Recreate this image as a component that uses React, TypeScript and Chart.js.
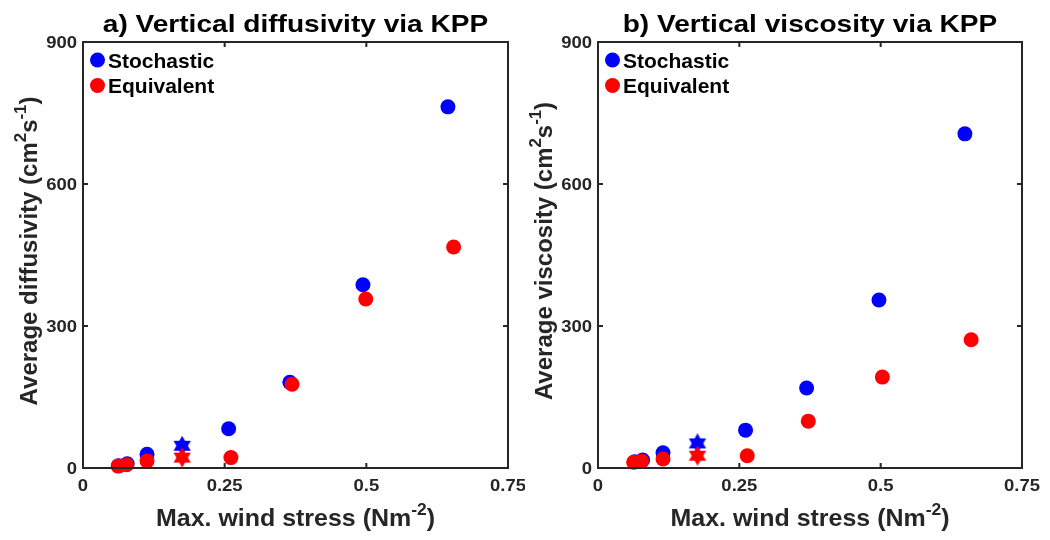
import React, { useEffect, useRef } from "react";
import { Chart, registerables } from "chart.js";

Chart.register(...registerables);

// ---------- data ----------
const xTickValues = [0, 0.25, 0.5, 0.75];
const xTickLabels = ["0", "0.25", "0.5", "0.75"];
const yTickValues = [0, 300, 600, 900];
const yTickLabels = ["0", "300", "600", "900"];

const legendLabels = ["Stochastic", "Equivalent"];

// Panel a: diffusivity
const diffStochX = [0.063, 0.078, 0.113, 0.257, 0.365, 0.494, 0.644];
const diffStochY = [5, 9, 29, 83, 181, 387, 763];
const diffEquivX = [0.062, 0.077, 0.113, 0.261, 0.369, 0.499, 0.654];
const diffEquivY = [4, 7, 15, 22, 177, 357, 467];
const diffStarX = [0.175];
const diffStochStarY = [47];
const diffEquivStarY = [22];

// Panel b: viscosity
const viscStochX = [0.065, 0.079, 0.115, 0.261, 0.369, 0.497, 0.649];
const viscStochY = [13, 17, 32, 80, 169, 355, 706];
const viscEquivX = [0.063, 0.077, 0.115, 0.264, 0.372, 0.503, 0.66];
const viscEquivY = [12, 14, 19, 26, 99, 192, 271];
const viscStarX = [0.176];
const viscStochStarY = [52];
const viscEquivStarY = [26];

const BLUE = "#0000ff";
const RED = "#ff0000";
const AXIS = "#262626";
const FONT = '"Liberation Sans", Arial, Helvetica, sans-serif';

type Seg = { t: string; sup?: boolean };

function makeHexagram(color: string, size: number) {
  const c = document.createElement("canvas");
  c.width = size;
  c.height = size;
  const ctx = c.getContext("2d")!;
  const cx = size / 2;
  const cy = size / 2;
  const R = size / 2;
  const r = R / Math.sqrt(3);
  ctx.beginPath();
  for (let i = 0; i < 12; i++) {
    const ang = -Math.PI / 2 + (i * Math.PI) / 6;
    const rad = i % 2 === 0 ? R : r;
    const px = cx + rad * Math.cos(ang);
    const py = cy + rad * Math.sin(ang);
    if (i === 0) ctx.moveTo(px, py);
    else ctx.lineTo(px, py);
  }
  ctx.closePath();
  ctx.fillStyle = color;
  ctx.fill();
  return c;
}

function zip(xs: number[], ys: number[]) {
  return xs.map((x, i) => ({ x, y: ys[i] }));
}

function drawText(
  ctx: CanvasRenderingContext2D,
  text: string,
  x: number,
  y: number,
  size: number,
  align: "left" | "center" | "right",
  sx: number,
  color: string
) {
  ctx.save();
  ctx.font = `bold ${size}px ${FONT}`;
  ctx.textBaseline = "alphabetic";
  ctx.textAlign = "left";
  const w = ctx.measureText(text).width * sx;
  const x0 = align === "center" ? x - w / 2 : align === "right" ? x - w : x;
  ctx.translate(x0, y);
  ctx.scale(sx, 1);
  ctx.fillStyle = color;
  ctx.fillText(text, 0, 0);
  ctx.restore();
}

function richWidth(ctx: CanvasRenderingContext2D, segs: Seg[], size: number) {
  let w = 0;
  for (const s of segs) {
    const fs = s.sup ? size * 0.7 : size;
    ctx.font = `bold ${fs}px ${FONT}`;
    w += ctx.measureText(s.t).width;
  }
  return w;
}

function drawRichCentered(
  ctx: CanvasRenderingContext2D,
  segs: Seg[],
  size: number,
  sx: number,
  color: string
) {
  ctx.save();
  ctx.scale(sx, 1);
  ctx.textAlign = "left";
  ctx.textBaseline = "alphabetic";
  ctx.fillStyle = color;
  const w = richWidth(ctx, segs, size);
  let x = -w / 2;
  for (const s of segs) {
    const fs = s.sup ? size * 0.7 : size;
    ctx.font = `bold ${fs}px ${FONT}`;
    ctx.fillText(s.t, x, s.sup ? -size * 0.45 : 0);
    x += ctx.measureText(s.t).width;
  }
  ctx.restore();
}

type PanelProps = {
  title: string;
  yLabel: Seg[];
  stochX: number[];
  stochY: number[];
  equivX: number[];
  equivY: number[];
  starX: number[];
  stochStarY: number[];
  equivStarY: number[];
  padLeft: number;
  padRight: number;
  left: number;
};

const xLabel: Seg[] = [
  { t: "Max. wind stress (Nm" },
  { t: "-2", sup: true },
  { t: ")" },
];

function Panel(p: PanelProps) {
  const ref = useRef<HTMLCanvasElement | null>(null);
  useEffect(() => {
    if (!ref.current) return;
    const blueStar = makeHexagram(BLUE, 20);
    const redStar = makeHexagram(RED, 20);

    const decor = {
      id: "decor",
      afterDraw(chart: any) {
        const ctx: CanvasRenderingContext2D = chart.ctx;
        const ca = chart.chartArea;
        const xs = chart.scales.x;
        const ys = chart.scales.y;
        ctx.save();
        ctx.strokeStyle = AXIS;
        ctx.lineWidth = 2;
        ctx.strokeRect(ca.left, ca.top, ca.right - ca.left, ca.bottom - ca.top);
        const tl = 5;
        ctx.beginPath();
        xTickValues.forEach((v) => {
          const px = xs.getPixelForValue(v);
          ctx.moveTo(px, ca.bottom);
          ctx.lineTo(px, ca.bottom - tl);
          ctx.moveTo(px, ca.top);
          ctx.lineTo(px, ca.top + tl);
        });
        yTickValues.forEach((v) => {
          const py = ys.getPixelForValue(v);
          ctx.moveTo(ca.left, py);
          ctx.lineTo(ca.left + tl, py);
          ctx.moveTo(ca.right, py);
          ctx.lineTo(ca.right - tl, py);
        });
        ctx.stroke();
        ctx.restore();

        xTickValues.forEach((v, i) => {
          const px = xs.getPixelForValue(v);
          drawText(ctx, xTickLabels[i], px, ca.bottom + 23, 16.5, "center", 1.12, AXIS);
        });
        yTickValues.forEach((v, i) => {
          const py = ys.getPixelForValue(v);
          drawText(ctx, yTickLabels[i], ca.left - 6, py + 6, 16.5, "right", 1.12, AXIS);
        });

        const cx = (ca.left + ca.right) / 2;
        drawText(ctx, p.title, cx, 32, 24, "center", 1.17, "#000");

        ctx.save();
        ctx.translate(cx, 526);
        drawRichCentered(ctx, xLabel, 24, 1.04, AXIS);
        ctx.restore();

        ctx.save();
        ctx.translate(ca.left - 46, 251);
        ctx.rotate(-Math.PI / 2);
        drawRichCentered(ctx, p.yLabel, 24, 1.0, AXIS);
        ctx.restore();

        const lx = ca.left + 14.5;
        const colors = [BLUE, RED];
        const rows = [60, 85.5];
        legendLabels.forEach((lab, i) => {
          ctx.save();
          ctx.beginPath();
          ctx.arc(lx, rows[i], 7.5, 0, Math.PI * 2);
          ctx.fillStyle = colors[i];
          ctx.fill();
          ctx.restore();
          drawText(ctx, lab, ca.left + 25, rows[i] + 7.5, 21, "left", 1.0, "#000");
        });
      },
    };

    // Chart.js draws the first dataset on top, so the red (Equivalent) sets come first.
    const chart = new Chart(ref.current, {
      type: "scatter",
      data: {
        datasets: [
          {
            label: legendLabels[1] + " star",
            data: zip(p.starX, p.equivStarY),
            pointStyle: redStar,
            pointRadius: 10,
            clip: false,
          } as any,
          {
            label: legendLabels[1],
            data: zip(p.equivX, p.equivY),
            backgroundColor: RED,
            borderColor: RED,
            pointRadius: 7.5,
            borderWidth: 0,
            clip: false,
          } as any,
          {
            label: legendLabels[0] + " star",
            data: zip(p.starX, p.stochStarY),
            pointStyle: blueStar,
            pointRadius: 10,
            clip: false,
          } as any,
          {
            label: legendLabels[0],
            data: zip(p.stochX, p.stochY),
            backgroundColor: BLUE,
            borderColor: BLUE,
            pointRadius: 7.5,
            borderWidth: 0,
            clip: false,
          } as any,
        ],
      },
      options: {
        responsive: false,
        animation: false,
        events: [],
        layout: {
          padding: { left: p.padLeft, right: p.padRight, top: 42, bottom: 72 },
        },
        scales: {
          x: { type: "linear", min: 0, max: 0.75, display: false },
          y: { type: "linear", min: 0, max: 900, display: false },
        },
        plugins: {
          legend: { display: false },
          tooltip: { enabled: false },
          title: { display: false },
        },
      },
      plugins: [decor],
    });
    return () => chart.destroy();
  }, []);
  return (
    <canvas
      ref={ref}
      width={525}
      height={540}
      style={{ position: "absolute", left: p.left, top: 0, width: 525, height: 540 }}
    />
  );
}

export default function App() {
  return (
    <div
      style={{
        position: "absolute",
        left: 0,
        top: 0,
        width: 1050,
        height: 540,
        background: "#fff",
      }}
    >
      <Panel
        title="a) Vertical diffusivity via KPP"
        yLabel={[
          { t: "Average diffusivity (cm" },
          { t: "2", sup: true },
          { t: "s" },
          { t: "-1", sup: true },
          { t: ")" },
        ]}
        stochX={diffStochX}
        stochY={diffStochY}
        equivX={diffEquivX}
        equivY={diffEquivY}
        starX={diffStarX}
        stochStarY={diffStochStarY}
        equivStarY={diffEquivStarY}
        padLeft={83}
        padRight={17}
        left={0}
      />
      <Panel
        title="b) Vertical viscosity via KPP"
        yLabel={[
          { t: "Average viscosity (cm" },
          { t: "2", sup: true },
          { t: "s" },
          { t: "-1", sup: true },
          { t: ")" },
        ]}
        stochX={viscStochX}
        stochY={viscStochY}
        equivX={viscEquivX}
        equivY={viscEquivY}
        starX={viscStarX}
        stochStarY={viscStochStarY}
        equivStarY={viscEquivStarY}
        padLeft={73}
        padRight={28}
        left={525}
      />
    </div>
  );
}
